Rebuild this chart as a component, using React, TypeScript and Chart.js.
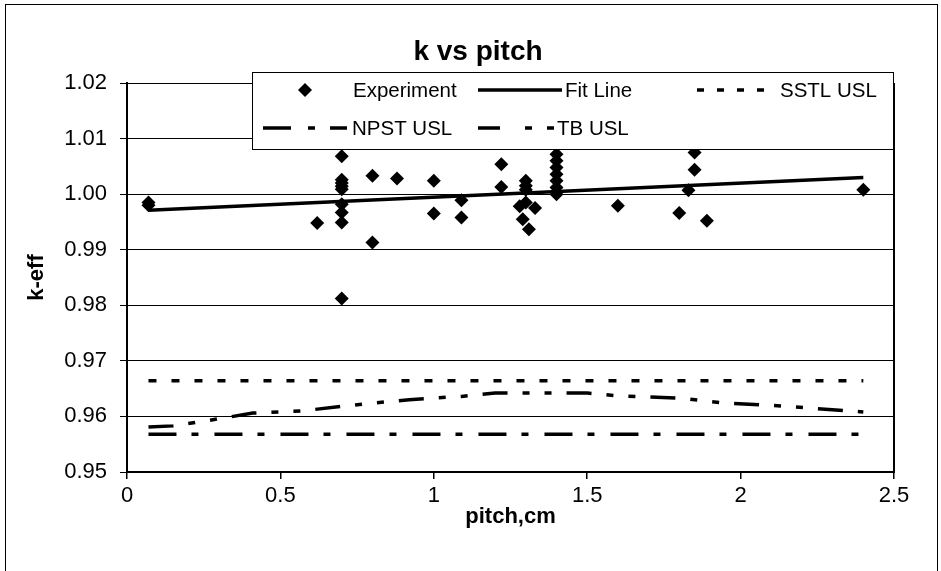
import { useEffect, useRef } from 'react';
import { Chart, registerables } from 'chart.js';

Chart.register(...registerables);

const FONT = '"Liberation Sans", Arial, Helvetica, sans-serif';

const chartTitle = 'k vs pitch';
const xAxisTitle = 'pitch,cm';
const yAxisTitle = 'k-eff';

// Critical experiments: lattice pitch (cm) and calculated k-eff
const expPitch = [
  0.07, 0.07, 0.62,
  0.7, 0.7, 0.7, 0.7, 0.7, 0.7, 0.7, 0.7, 0.7,
  0.8, 0.8, 0.88, 1.0, 1.0, 1.09, 1.09, 1.22, 1.22,
  1.3, 1.3, 1.3, 1.3, 1.28, 1.33, 1.29, 1.31,
  1.4, 1.4, 1.4, 1.4, 1.4, 1.4, 1.4,
  1.6, 1.85, 1.85, 1.83, 1.8, 1.89, 2.4,
];
const expKeff = [
  0.9985, 0.998, 0.9948,
  1.0068, 1.0026, 1.002, 1.0014, 1.0009, 0.9982, 0.9967, 0.9949, 0.9812,
  1.0033, 0.9913, 1.0028, 1.0024, 0.9965, 0.9989, 0.9958, 1.0054, 1.0013,
  1.0024, 1.0015, 1.0008, 0.9985, 0.9978, 0.9975, 0.9955, 0.9937,
  1.0072, 1.006, 1.0048, 1.0036, 1.0024, 1.0012, 1.0,
  0.9979, 1.0075, 1.0044, 1.0007, 0.9966, 0.9952, 1.0008,
];

// Linear fit of k-eff against pitch
const fitPitch = [0.07, 2.4];
const fitKeff = [0.9971, 1.003];

// Upper subcritical limits
const sstlPitch = [0.07, 2.4];
const sstlKeff = [0.9664, 0.9664];

const npstPitch = [
  0.07, 0.15, 0.28, 0.41, 0.57, 0.7, 0.8, 0.92, 1.0, 1.09,
  1.2, 1.5, 1.6, 1.8, 1.95, 2.1, 2.25, 2.4,
];
const npstKeff = [
  0.9581, 0.9583, 0.9594, 0.9606, 0.961, 0.9618, 0.9624, 0.963, 0.9633, 0.9636,
  0.9642, 0.9642, 0.9637, 0.9633, 0.9624, 0.962, 0.9614, 0.9608,
];

const tbPitch = [0.07, 2.4];
const tbKeff = [0.9568, 0.9568];

const xTickValues = [0, 0.5, 1, 1.5, 2, 2.5];
const xTickLabels = ['0', '0.5', '1', '1.5', '2', '2.5'];
const yTickValues = [0.95, 0.96, 0.97, 0.98, 0.99, 1.0, 1.01, 1.02];
const yTickLabels = ['0.95', '0.96', '0.97', '0.98', '0.99', '1.00', '1.01', '1.02'];

const pairs = (xs: number[], ys: number[]) => xs.map((x, i) => ({ x, y: ys[i] }));

// Outer frame and chart title
const frameAndTitle = {
  id: 'frameAndTitle',
  beforeDraw(chart: any) {
    const { ctx, width, height } = chart;
    ctx.save();
    ctx.fillStyle = '#fff';
    ctx.fillRect(0, 0, width, height);
    ctx.strokeStyle = '#000';
    ctx.lineWidth = 1;
    ctx.strokeRect(5.5, 4.5, width - 9, height + 10);
    ctx.fillStyle = '#000';
    ctx.font = `bold 28px ${FONT}`;
    ctx.textAlign = 'center';
    ctx.textBaseline = 'alphabetic';
    ctx.fillText(chartTitle, 478, 60);
    ctx.restore();
  },
};

// Right-hand edge of the plot area
const plotEdge = {
  id: 'plotEdge',
  beforeDatasetsDraw(chart: any) {
    const { ctx, chartArea } = chart;
    ctx.save();
    ctx.strokeStyle = '#000';
    ctx.lineWidth = 2;
    ctx.beginPath();
    ctx.moveTo(chartArea.right, chartArea.top);
    ctx.lineTo(chartArea.right, chartArea.bottom + 1);
    ctx.stroke();
    ctx.restore();
  },
};

// Boxed legend, three columns over two rows
const boxLegend = {
  id: 'boxLegend',
  afterDraw(chart: any) {
    const { ctx } = chart;
    const ds = chart.data.datasets;
    const box = { left: 252, top: 72, right: 893, bottom: 149 };
    ctx.save();
    ctx.fillStyle = '#fff';
    ctx.fillRect(box.left, box.top, box.right - box.left, box.bottom - box.top);
    ctx.strokeStyle = '#000';
    ctx.lineWidth = 1;
    ctx.strokeRect(box.left + 0.5, box.top + 0.5, box.right - box.left, box.bottom - box.top);

    const items = [
      { i: 0, from: 305, to: 305, dash: [] as number[], tx: 353, y: 90 },
      { i: 1, from: 478, to: 562, dash: [] as number[], tx: 565, y: 90 },
      { i: 2, from: 697, to: 771, dash: [7, 13], tx: 780, y: 90 },
      { i: 3, from: 263, to: 347, dash: [28, 17, 7, 15], tx: 352, y: 128 },
      { i: 4, from: 478, to: 554, dash: [22, 25, 7, 15, 7, 15], tx: 557, y: 128 },
    ];
    ctx.fillStyle = '#000';
    items.forEach((it) => {
      if (it.i === 0) {
        const r = 7;
        ctx.beginPath();
        ctx.moveTo(it.from, it.y - r);
        ctx.lineTo(it.from + r, it.y);
        ctx.lineTo(it.from, it.y + r);
        ctx.lineTo(it.from - r, it.y);
        ctx.closePath();
        ctx.fill();
      } else {
        ctx.beginPath();
        ctx.setLineDash(it.dash);
        ctx.lineWidth = 3.5;
        ctx.lineCap = 'butt';
        ctx.moveTo(it.from, it.y);
        ctx.lineTo(it.to, it.y);
        ctx.stroke();
        ctx.setLineDash([]);
      }
      ctx.font = `20.5px ${FONT}`;
      ctx.textAlign = 'left';
      ctx.textBaseline = 'middle';
      ctx.fillText(ds[it.i].label, it.tx, it.y + 1);
    });
    ctx.restore();
  },
};

export default function App() {
  const canvasRef = useRef<HTMLCanvasElement | null>(null);

  useEffect(() => {
    if (!canvasRef.current) return;
    const line = (label: string, xs: number[], ys: number[], dash: number[]) => ({
      label,
      data: pairs(xs, ys),
      showLine: true,
      borderColor: '#000',
      backgroundColor: '#000',
      borderWidth: 3.5,
      borderDash: dash,
      borderCapStyle: 'butt',
      pointRadius: 0,
      fill: false,
    });

    const chart = new Chart(canvasRef.current, {
      type: 'scatter',
      data: {
        datasets: [
          {
            label: 'Experiment',
            data: pairs(expPitch, expKeff),
            pointStyle: 'rectRot',
            pointRadius: 7,
            backgroundColor: '#000',
            borderColor: '#000',
            borderWidth: 0,
          },
          line('Fit Line', fitPitch, fitKeff, []),
          line('SSTL USL', sstlPitch, sstlKeff, [8, 15]),
          line('NPST USL', npstPitch, npstKeff, [25, 15, 7, 15, 7, 15]),
          line('TB USL', tbPitch, tbKeff, [28, 15, 7, 16]),
        ] as any,
      },
      options: {
        animation: false,
        responsive: false,
        devicePixelRatio: 1,
        layout: { padding: { left: 0, right: 47, top: 83, bottom: 0 } },
        plugins: {
          legend: { display: false },
          title: { display: false },
          tooltip: { enabled: false },
        },
        scales: {
          x: {
            type: 'linear',
            min: 0,
            max: 2.5,
            afterBuildTicks: (s: any) => {
              s.ticks = xTickValues.map((v) => ({ value: v }));
            },
            afterFit: (s: any) => {
              s.height = 99;
            },
            ticks: {
              callback: (_v: any, i: number) => xTickLabels[i],
              font: { family: FONT, size: 22 },
              color: '#000',
              padding: 4,
              maxRotation: 0,
              autoSkip: false,
            },
            grid: {
              drawOnChartArea: false,
              drawTicks: true,
              tickLength: 7,
              color: '#000',
              lineWidth: 1.5,
            },
            border: { display: true, color: '#000', width: 2 },
            title: {
              display: true,
              text: xAxisTitle,
              color: '#000',
              font: { family: FONT, size: 22, weight: 'bold' },
              padding: { top: 0, bottom: 41 },
            },
          },
          y: {
            type: 'linear',
            min: 0.95,
            max: 1.02,
            afterBuildTicks: (s: any) => {
              s.ticks = yTickValues.map((v) => ({ value: v }));
            },
            afterFit: (s: any) => {
              s.width = 127;
            },
            ticks: {
              callback: (_v: any, i: number) => yTickLabels[i],
              font: { family: FONT, size: 22 },
              color: '#000',
              padding: 13,
              autoSkip: false,
            },
            grid: {
              drawTicks: true,
              tickLength: 7,
              color: '#000',
              lineWidth: 1,
            },
            border: { display: true, color: '#000', width: 2 },
            title: {
              display: true,
              text: yAxisTitle,
              color: '#000',
              font: { family: FONT, size: 22, weight: 'bold' },
              padding: { top: 24, bottom: 0 },
            },
          },
        },
      } as any,
      plugins: [frameAndTitle, plotEdge, boxLegend],
    });
    return () => chart.destroy();
  }, []);

  return (
    <div style={{ position: 'absolute', left: 0, top: 0, width: 941, height: 571, background: '#fff' }}>
      <canvas ref={canvasRef} width={941} height={571} />
    </div>
  );
}
